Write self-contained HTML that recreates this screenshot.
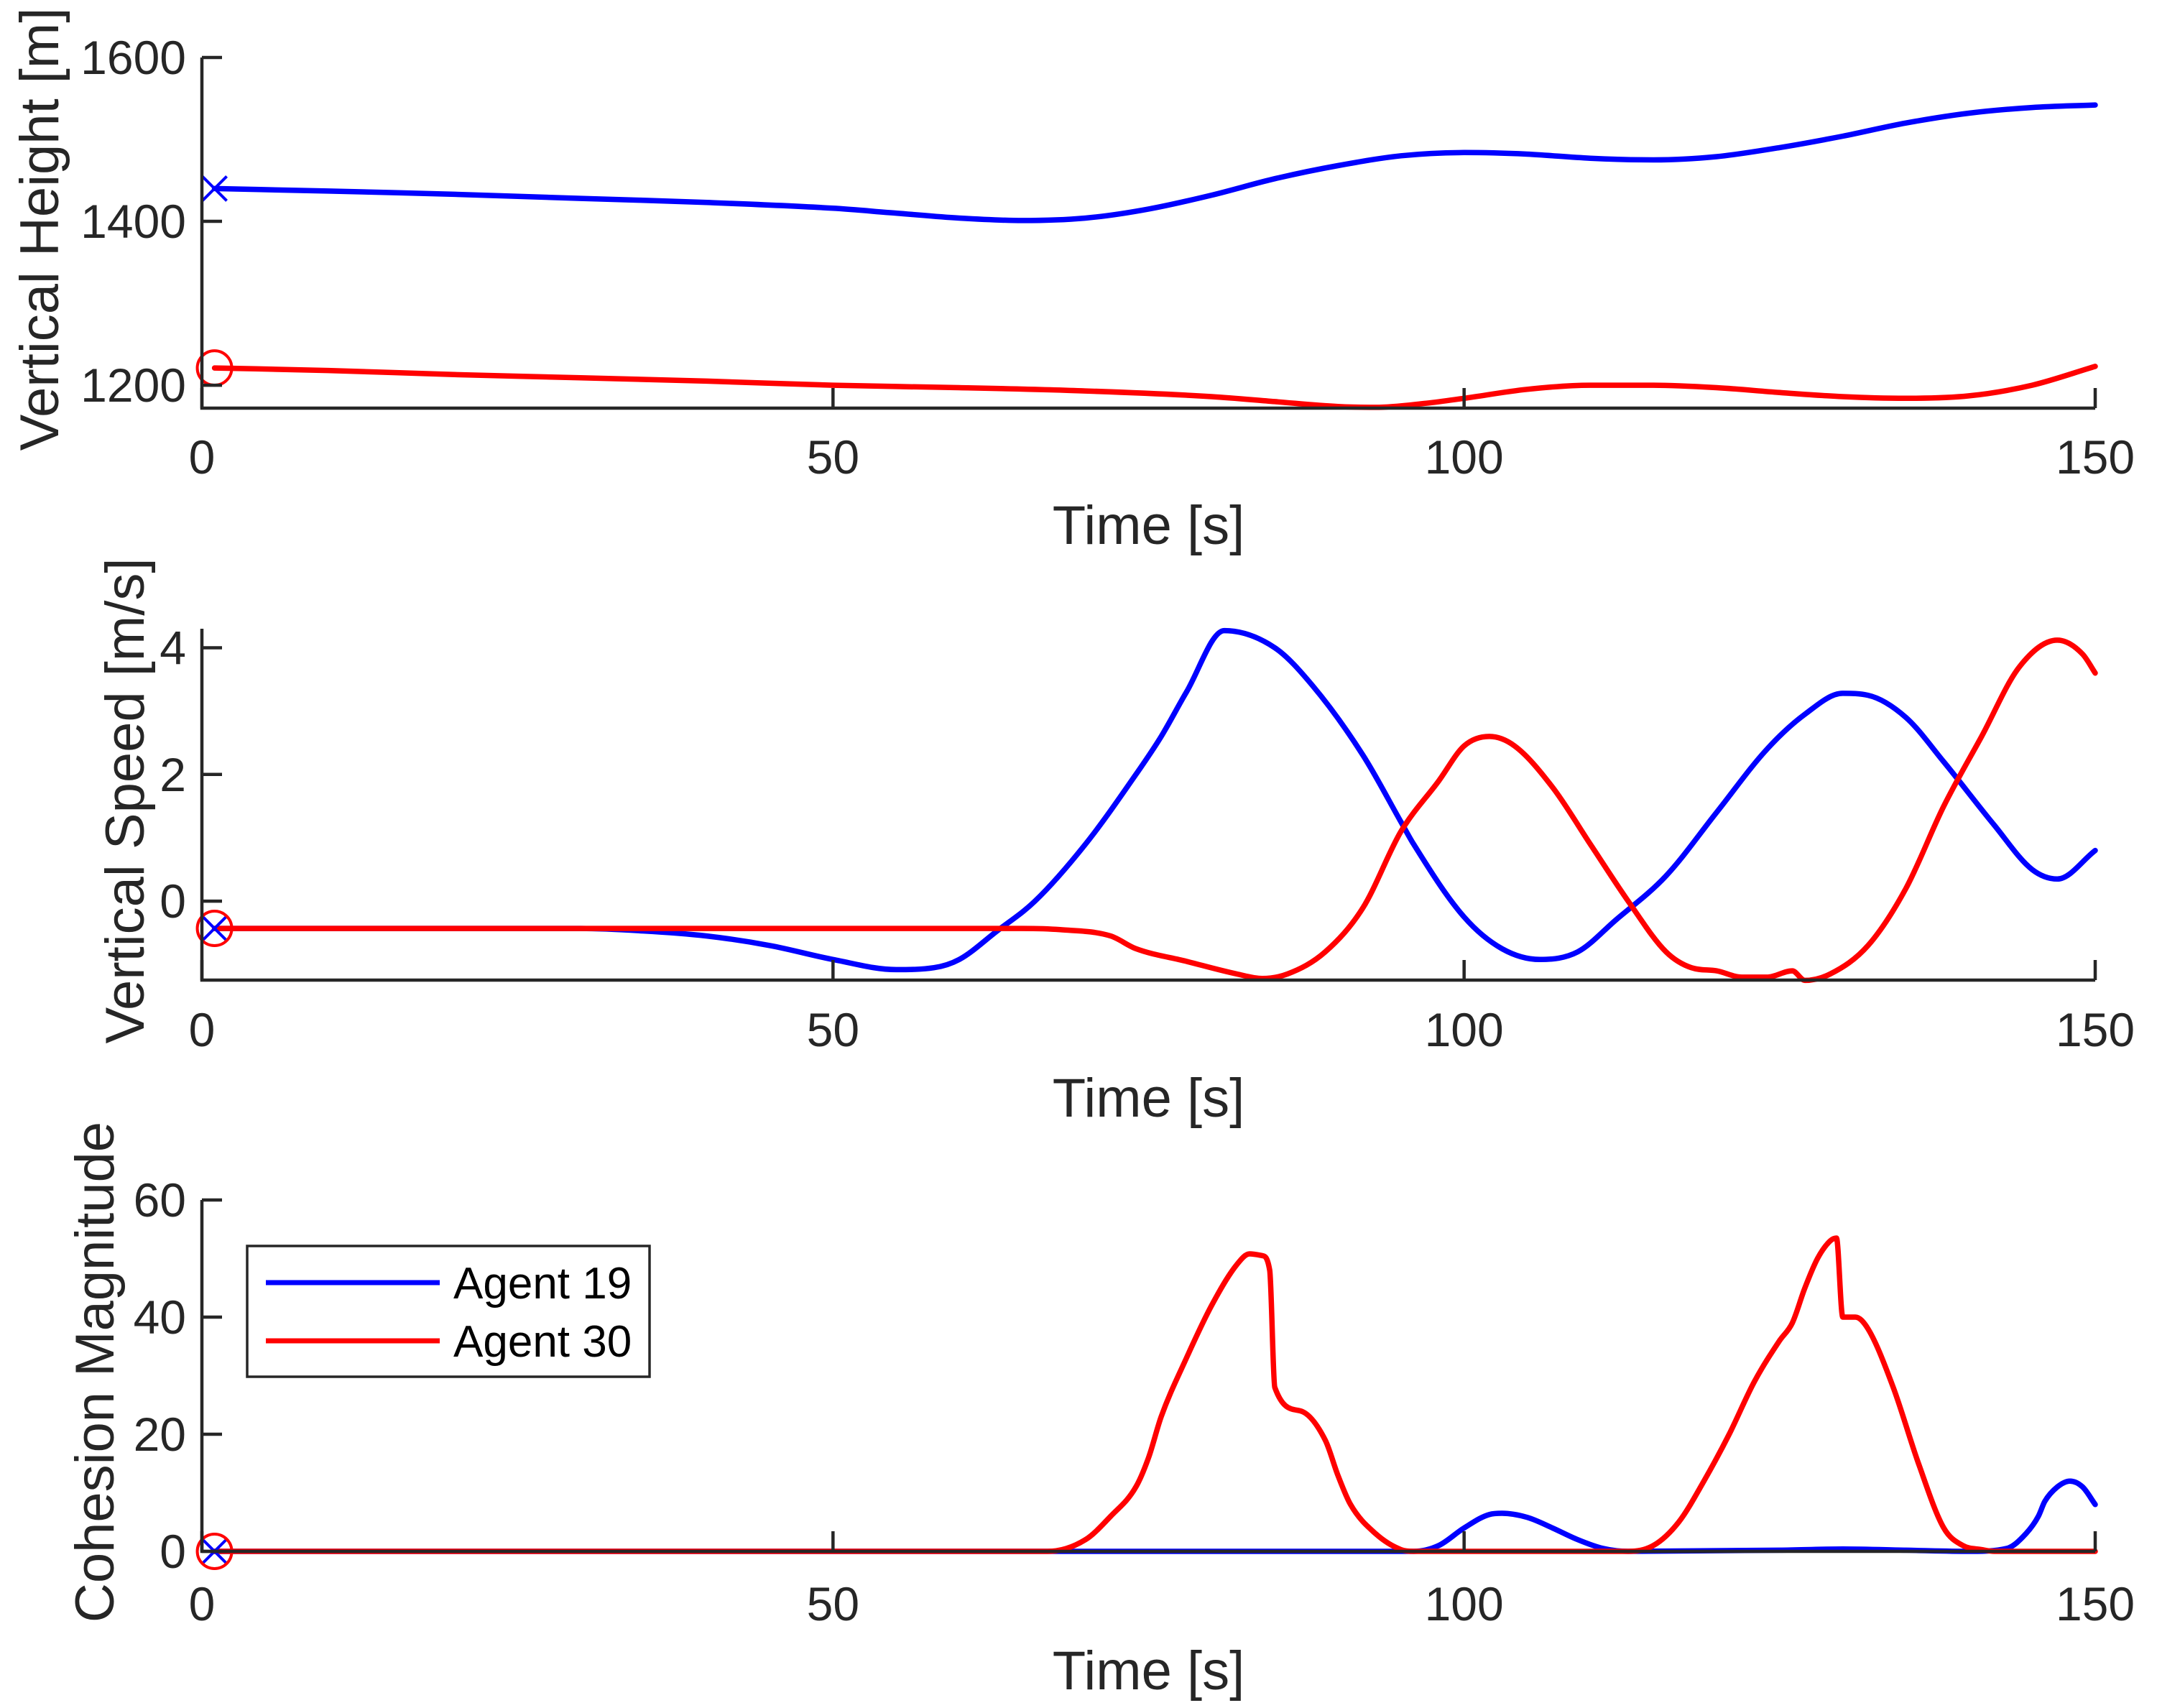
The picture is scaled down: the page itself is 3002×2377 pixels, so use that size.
<!DOCTYPE html>
<html><head><meta charset="utf-8"><style>
html,body{margin:0;padding:0;background:#fff;}
svg{display:block;font-family:"Liberation Sans",Arial,sans-serif;}
</style></head><body>
<svg id="chart" width="3002" height="2377" viewBox="0 0 3002 2377" xmlns="http://www.w3.org/2000/svg">
<rect width="3002" height="2377" fill="#fff"/>
<g id="legend">
<rect x="344" y="1734" width="560" height="182" fill="#fff" stroke="#262626" stroke-width="3.5"/>
<line x1="370" y1="1785" x2="612" y2="1785" stroke="#0000ff" stroke-width="7"/>
<text x="631" y="1807" font-size="62" fill="#000">Agent 19</text>
<line x1="370" y1="1866" x2="612" y2="1866" stroke="#ff0000" stroke-width="7"/>
<text x="631" y="1888" font-size="62" fill="#000">Agent 30</text>
</g>
</svg>
<script>
// Shared x data
const xTicks = [0, 50, 100, 150];
// Panel 1: vertical height
const hBlueT = [1,10,20,30,40,50,55,60,65,70,75,80,85,90,95,100,105,110,115,120,125,130,135,140,145,150];
const hBlueV = [1440,1437,1433,1428,1423,1416,1410,1404,1401,1404,1415,1432,1452,1468,1480,1484,1482,1477,1475,1479,1490,1504,1520,1532,1539,1542];
const hRedT = [1,10,20,30,40,50,60,70,80,85,90,93,97,100,105,110,115,120,125,130,135,140,145,150];
const hRedV = [1221,1218,1213,1209,1205,1200,1197,1193,1186,1180,1174,1173,1178,1184,1195,1200,1200,1197,1191,1186,1184,1187,1200,1223];
const hTicks = [1200, 1400, 1600];
// Panel 2: vertical speed
const sBlueT = [1,10,20,30,35,40,45,50,55,58,60,63,66,70,74,76,78,81,85,88,92,95,96,100,103,106,109,112,116,120,124,127,130,132,135,138,142,145,147,150];
const sBlueV = [-0.43,-0.43,-0.43,-0.43,-0.47,-0.55,-0.7,-0.92,-1.08,-1.05,-0.92,-0.47,0.0,0.9,2.0,2.6,3.3,4.27,4.0,3.4,2.3,1.25,0.9,-0.25,-0.75,-0.92,-0.8,-0.3,0.4,1.4,2.4,2.95,3.28,3.25,2.9,2.2,1.2,0.5,0.35,0.8];
const sRedT = [1,10,20,30,40,50,60,65,68,72,74,78,82,84,86,89,92,95,98,100,102,104,107,110,113,116,118,120,122,124,126,127,129,132,135,138,141,144,147,149,150];
const sRedV = [-0.43,-0.43,-0.43,-0.43,-0.43,-0.43,-0.43,-0.43,-0.45,-0.55,-0.75,-0.95,-1.15,-1.22,-1.15,-0.8,-0.1,1.1,1.9,2.45,2.6,2.45,1.8,0.9,0.0,-0.8,-1.05,-1.1,-1.2,-1.2,-1.1,-1.25,-1.15,-0.7,0.2,1.5,2.6,3.7,4.12,3.9,3.6];
const sTicks = [0, 2, 4];
// Panel 3: cohesion magnitude
const cBlueT = [1,96,98,100,102,103,105,107,109,111,113,125,130,135,140,143,144.5,145.5,146,147,148,149,150];
const cBlueV = [0,0,1,4,6.3,6.5,5.8,4,2,0.5,0,0.2,0.4,0.2,0,0.5,3,6,8.5,11,12,11,8];
const cRedT = [1,67,70,72,74,75,76,78,80,82,83,84,84.6,85,87,89,90,91,93,95,96,113,115,117,119,121,123,125,126,127,128,129,129.5,130,131,132,134,136,138,139.5,141,142,150];
const cRedV = [0,0,2,6,11,16,23,33,42,49,50.8,50.5,48,28,24,19,13,8,3,0.3,0,0,1,5,12,20,29,36,39,45,50,53,53.5,40,40,38,28,15,4,1,0.3,0,0];
const cTicks = [0, 20, 40, 60];

const svg = document.getElementById('chart');
const NS = 'http://www.w3.org/2000/svg';
const X0 = 281, X1 = 2916;
function xs(t){ return X0 + (t/150)*(X1-X0); }
function mk(tag, attrs){ const e=document.createElementNS(NS,tag); for(const k in attrs) e.setAttribute(k,attrs[k]); return e; }
// monotone cubic path (Fritsch-Carlson)
function monoPath(P){
  const n=P.length; if(n<2) return '';
  const d=[], m=[];
  for(let i=0;i<n-1;i++) d.push((P[i+1][1]-P[i][1])/(P[i+1][0]-P[i][0]));
  m[0]=d[0]; m[n-1]=d[n-2];
  for(let i=1;i<n-1;i++){ m[i]=(d[i-1]*d[i]<=0)?0:(d[i-1]+d[i])/2; }
  for(let i=0;i<n-1;i++){
    if(d[i]===0){m[i]=0;m[i+1]=0;continue;}
    const a=m[i]/d[i], b=m[i+1]/d[i], s=a*a+b*b;
    if(s>9){const t=3/Math.sqrt(s); m[i]=t*a*d[i]; m[i+1]=t*b*d[i];}
  }
  let s='M'+P[0][0].toFixed(1)+' '+P[0][1].toFixed(1);
  for(let i=0;i<n-1;i++){
    const h=(P[i+1][0]-P[i][0])/3;
    s+=`C${(P[i][0]+h).toFixed(1)} ${(P[i][1]+m[i]*h).toFixed(1)} ${(P[i+1][0]-h).toFixed(1)} ${(P[i+1][1]-m[i+1]*h).toFixed(1)} ${P[i+1][0].toFixed(1)} ${P[i+1][1].toFixed(1)}`;
  }
  return s;
}

const panels = [
  {top:80, bot:568, vmin:1172, vmax:1600, ticks:hTicks, ylabel:'Vertical Height [m]', ylx:54, lbl:'height',
   series:[[hBlueT,hBlueV,'#0000ff','blue'],[hRedT,hRedV,'#ff0000','red']], tickY:636, xlabY:730},
  {top:875, bot:1364, vmin:-1.246, vmax:4.30, ticks:sTicks, ylabel:'Vertical Speed [m/s]', ylx:173, lbl:'speed',
   series:[[sBlueT,sBlueV,'#0000ff','blue'],[sRedT,sRedV,'#ff0000','red']], tickY:1433, xlabY:1527},
  {top:1670, bot:2159, vmin:0, vmax:60, ticks:cTicks, ylabel:'Cohesion Magnitude', ylx:131, lbl:'cohesion',
   series:[[cBlueT,cBlueV,'#0000ff','blue'],[cRedT,cRedV,'#ff0000','red']], tickY:2232, xlabY:2324}
];
const legend = document.getElementById('legend');

panels.forEach(p=>{
  const ys = v => p.bot - (v-p.vmin)/(p.vmax-p.vmin)*(p.bot-p.top);
  const g = mk('g',{});
  
  
  svg.insertBefore(g, legend);
  p.series.forEach(s=>{
    const P = s[0].map((t,i)=>[xs(t), ys(s[1][i])]);
    const pl = mk('path',{d:monoPath(P), fill:'none', stroke:s[2], 'stroke-width':7.5, 'stroke-linejoin':'round', 'stroke-linecap':'round'});
    
    
    g.appendChild(pl);
  });
  const bx = xs(sBlueT[0]);
  const by = ys(p.series[0][1][0]), ry = ys(p.series[1][1][0]);
  const cross = mk('path',{d:`M${bx-17} ${by-17}L${bx+17} ${by+17}M${bx-17} ${by+17}L${bx+17} ${by-17}`, stroke:'#0000ff', 'stroke-width':4, fill:'none'});
  
  
  g.appendChild(cross);
  const circ = mk('circle',{cx:bx, cy:ry, r:24, fill:'none', stroke:'#ff0000', 'stroke-width':4});
  
  
  g.appendChild(circ);
  const ax = mk('path',{d:`M${X0} ${p.top}L${X0} ${p.bot}L${X1} ${p.bot}`, stroke:'#262626', 'stroke-width':4.5, fill:'none'});
  
  
  g.appendChild(ax);
  p.ticks.forEach(v=>{
    const y = ys(v);
    const tk = mk('line',{x1:X0, y1:y, x2:X0+28, y2:y, stroke:'#262626', 'stroke-width':4.5});
    
    
    g.appendChild(tk);
    const tx = mk('text',{x:X0-22, y:y+23, 'font-size':66, 'text-anchor':'end', fill:'#262626'});
    tx.textContent = v;
    
    
    g.appendChild(tx);
  });
  xTicks.forEach(t=>{
    const x = xs(t);
    const tk = mk('line',{x1:x, y1:p.bot, x2:x, y2:p.bot-28, stroke:'#262626', 'stroke-width':4.5});
    
    
    g.appendChild(tk);
    const tx = mk('text',{x:x, y:p.tickY+23, 'font-size':66, 'text-anchor':'middle', fill:'#262626'});
    tx.textContent = t;
    
    
    g.appendChild(tx);
  });
  const xl = mk('text',{x:(X0+X1)/2, y:p.xlabY+27, 'font-size':76, 'text-anchor':'middle', fill:'#262626'});
  xl.textContent = 'Time [s]';
  
  
  g.appendChild(xl);
  const cy = (p.top+p.bot)/2 - 5;
  const yl = mk('text',{x:0, y:0, 'font-size':76, 'text-anchor':'middle', fill:'#262626', transform:`translate(${p.ylx+27},${cy}) rotate(-90)`});
  yl.textContent = p.ylabel;
  
  
  g.appendChild(yl);
});
</script>
</body></html>
